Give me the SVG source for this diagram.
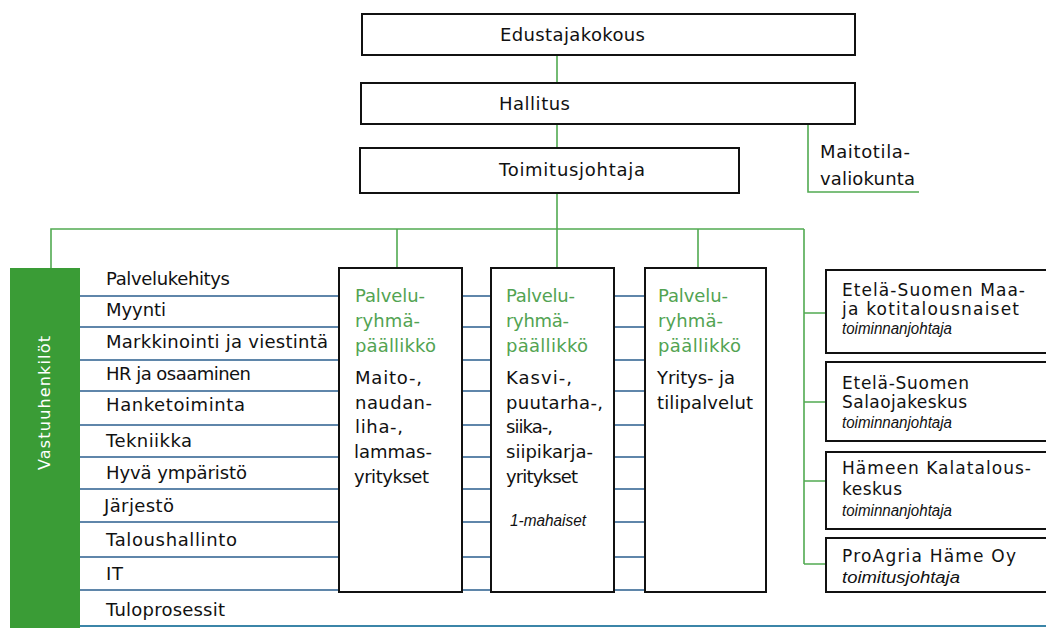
<svg xmlns="http://www.w3.org/2000/svg" width="1046" height="628" viewBox="0 0 1046 628">
<style>
.t{font-family:"DejaVu Sans",sans-serif;font-size:18px;fill:#111}
.s{font-family:"DejaVu Sans",sans-serif;font-size:17px;fill:#111}
.g{fill:#52a352}
.i{font-family:"Liberation Sans",sans-serif;font-style:italic;font-size:16px;fill:#111}
.box{fill:#fff;stroke:#111;stroke-width:2}
.gl{stroke:#52aa52;stroke-width:1.6;fill:none}
.bl{stroke:#2b5f8e;stroke-width:1.6;fill:none}
</style>
<rect width="1046" height="628" fill="#fff"/>
<g id="connectors">
<path class="gl" d="M557,55V83M557,124V148M557,193V268M808,124V192H919M51,268V229H804M397,229V268M698,229V268M804,229V564M804,313H826M804,402H826M804,481H826M804,564H826"/>
<path class="bl" d="M80,296H339M462,296H491M614,296H645M80,327H339M462,327H491M614,327H645M80,360H339M462,360H491M614,360H645M80,391H339M462,391H491M614,391H645M80,425H339M462,425H491M614,425H645M80,457H339M462,457H491M614,457H645M80,489H339M462,489H491M614,489H645M80,522H339M462,522H491M614,522H645M80,557H339M462,557H491M614,557H645M80,590H339M462,590H491M614,590H645"/>
<path d="M80,626H1046" stroke="#3b85a8" stroke-width="2"/>
</g>
<g id="n-edustajakokous">
<rect class="box" x="362" y="14" width="493" height="41"/>
<text class="t" x="500" y="41" textLength="145">Edustajakokous</text>
</g>
<g id="n-hallitus">
<rect class="box" x="361" y="83" width="494" height="41"/>
<text class="t" x="499" y="110" textLength="71">Hallitus</text>
</g>
<g id="n-toimitusjohtaja">
<rect class="box" x="360" y="148" width="379" height="45"/>
<text class="t" x="499" y="176" textLength="146">Toimitusjohtaja</text>
</g>
<g id="n-maitotila">
<text class="t" x="820" y="158" textLength="90">Maitotila-</text>
<text class="t" x="820" y="185" textLength="95">valiokunta</text>
</g>
<g id="n-vastuuhenkilot">
<rect x="10" y="268" width="70" height="362" fill="#3a9c36"/>
<text x="0" y="0" transform="translate(50,403) rotate(-90)" text-anchor="middle" font-family="DejaVu Sans,sans-serif" font-size="16" fill="#fff" textLength="134">Vastuuhenkilöt</text>
</g>
<g id="n-tehtavat">
<text class="t" x="106" y="285" textLength="124">Palvelukehitys</text>
<text class="t" x="106" y="316" textLength="60">Myynti</text>
<text class="t" x="106" y="348" textLength="222">Markkinointi ja viestintä</text>
<text class="t" x="106" y="380" textLength="145">HR ja osaaminen</text>
<text class="t" x="106" y="411" textLength="139">Hanketoiminta</text>
<text class="t" x="106" y="447" textLength="86">Tekniikka</text>
<text class="t" x="106" y="479" textLength="141">Hyvä ympäristö</text>
<text class="t" x="104" y="512" textLength="70">Järjestö</text>
<text class="t" x="106" y="546" textLength="131">Taloushallinto</text>
<text class="t" x="106" y="580" textLength="17">IT</text>
<text class="t" x="106" y="616" textLength="119">Tuloprosessit</text>
</g>
<g id="n-palveluryhma1">
<rect class="box" x="339" y="268" width="123" height="324"/>
<text class="t g" x="355" y="302" textLength="70">Palvelu-</text>
<text class="t g" x="355" y="327" textLength="65">ryhmä-</text>
<text class="t g" x="355" y="352" textLength="81">päällikkö</text>
<text class="t" x="355" y="384" textLength="67">Maito-,</text>
<text class="t" x="355" y="409" textLength="77">naudan-</text>
<text class="t" x="355" y="433" textLength="48">liha-,</text>
<text class="t" x="354" y="458" textLength="78">lammas-</text>
<text class="t" x="354" y="483" textLength="75">yritykset</text>
</g>
<g id="n-palveluryhma2">
<rect class="box" x="491" y="268" width="123" height="324"/>
<text class="t g" x="506" y="302" textLength="69">Palvelu-</text>
<text class="t g" x="506" y="327" textLength="63">ryhmä-</text>
<text class="t g" x="506" y="352" textLength="82">päällikkö</text>
<text class="t" x="506" y="384" textLength="66">Kasvi-,</text>
<text class="t" x="506" y="409" textLength="97">puutarha-,</text>
<text class="t" x="506" y="433" textLength="47">siika-,</text>
<text class="t" x="506" y="458" textLength="87">siipikarja-</text>
<text class="t" x="506" y="483" textLength="72">yritykset</text>
<text class="i" x="548" y="526" text-anchor="middle" font-size="14" textLength="76" lengthAdjust="spacingAndGlyphs">1-mahaiset</text>
</g>
<g id="n-palveluryhma3">
<rect class="box" x="645" y="268" width="121" height="324"/>
<text class="t g" x="658" y="302" textLength="70">Palvelu-</text>
<text class="t g" x="658" y="327" textLength="65">ryhmä-</text>
<text class="t g" x="658" y="352" textLength="83">päällikkö</text>
<text class="t" x="657" y="384" textLength="78">Yritys- ja</text>
<text class="t" x="657" y="409" textLength="96">tilipalvelut</text>
</g>
<g id="n-maajakotitalousnaiset">
<rect class="box" x="826" y="270" width="224" height="83"/>
<text class="s" x="842" y="296" textLength="183">Etelä-Suomen Maa-</text>
<text class="s" x="842" y="315" textLength="177">ja kotitalousnaiset</text>
<text class="i" x="842" y="334" textLength="110" lengthAdjust="spacingAndGlyphs">toiminnanjohtaja</text>
</g>
<g id="n-salaojakeskus">
<rect class="box" x="826" y="362" width="224" height="79"/>
<text class="s" x="842" y="389" textLength="127">Etelä-Suomen</text>
<text class="s" x="842" y="408" textLength="125">Salaojakeskus</text>
<text class="i" x="842" y="428" textLength="110" lengthAdjust="spacingAndGlyphs">toiminnanjohtaja</text>
</g>
<g id="n-kalatalouskeskus">
<rect class="box" x="826" y="452" width="224" height="77"/>
<text class="s" x="842" y="474" textLength="189">Hämeen Kalatalous-</text>
<text class="s" x="842" y="495" textLength="60">keskus</text>
<text class="i" x="842" y="516" textLength="110" lengthAdjust="spacingAndGlyphs">toiminnanjohtaja</text>
</g>
<g id="n-proagria">
<rect class="box" x="826" y="538" width="224" height="54"/>
<text class="s" x="842" y="562" textLength="174">ProAgria Häme Oy</text>
<text class="i" x="842" y="583" textLength="118" lengthAdjust="spacingAndGlyphs">toimitusjohtaja</text>
</g>
</svg>
